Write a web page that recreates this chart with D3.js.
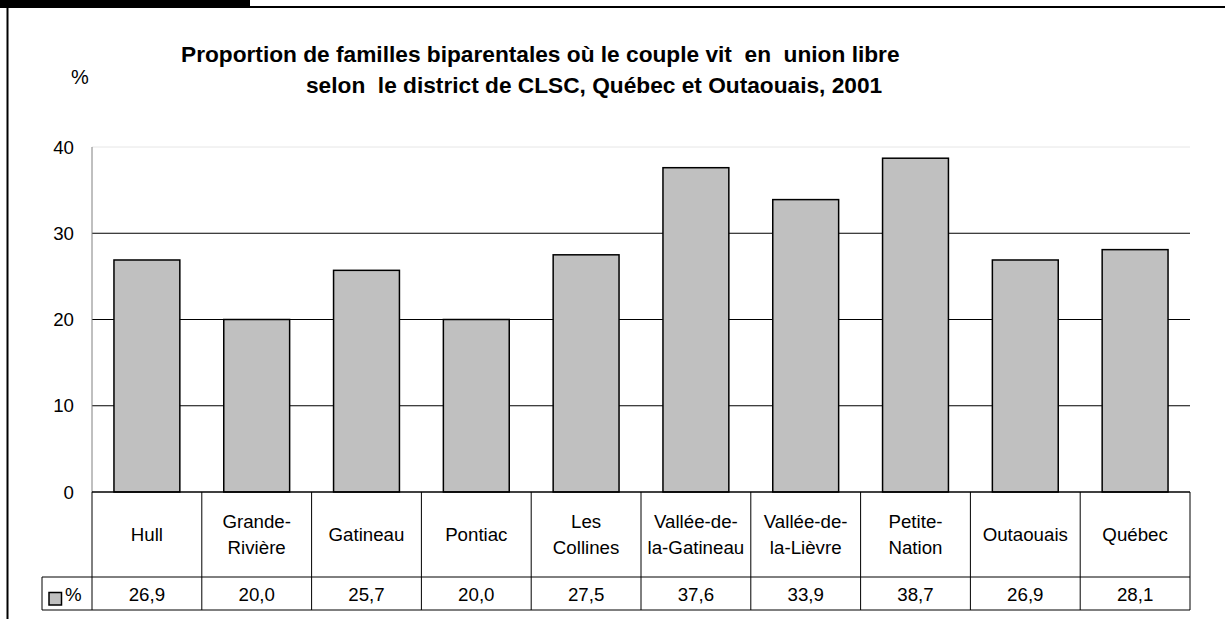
<!DOCTYPE html>
<html><head><meta charset="utf-8">
<script src="https://cdn.jsdelivr.net/npm/d3@7"></script>
<style>
body{margin:0;background:#fff}
svg{display:block}
text{font-family:"Liberation Sans",Arial,sans-serif;fill:#000;white-space:pre}
</style>
</head><body><svg id="c" width="1225" height="619"></svg>
<script>
const categories = ["Hull","Grande-Rivière","Gatineau","Pontiac","Les Collines","Vallée-de-la-Gatineau","Vallée-de-la-Lièvre","Petite-Nation","Outaouais","Québec"];
const categoryLines = [["Hull"],["Grande-","Rivière"],["Gatineau"],["Pontiac"],["Les","Collines"],["Vallée-de-","la-Gatineau"],["Vallée-de-","la-Lièvre"],["Petite-","Nation"],["Outaouais"],["Québec"]];
const values = [26.9,20.0,25.7,20.0,27.5,37.6,33.9,38.7,26.9,28.1];
const yTicks = [0,10,20,30,40];
const titleLines = ["Proportion de familles biparentales où le couple vit  en  union libre","selon  le district de CLSC, Québec et Outaouais, 2001"];
const unitLabel = "%";
const seriesLabel = "%";

(function(){
const svg = d3.select("#c");
const W = 1225, H = 619;
const pLeft = 92, pRight = 1190, pTop = 147, zeroY = 492;
const row1 = 577, row2 = 610, legendLeft = 42;
const fs = 18.7;

// frame
svg.append("rect").attr("x",0).attr("y",0).attr("width",250).attr("height",8).attr("fill","#000");
svg.append("line").attr("x1",250).attr("x2",W).attr("y1",7).attr("y2",7).attr("stroke","#000").attr("stroke-width",2);
svg.append("line").attr("x1",7.5).attr("x2",7.5).attr("y1",0).attr("y2",H).attr("stroke","#000").attr("stroke-width",2);

const x = d3.scaleBand().domain(categories).range([pLeft,pRight]);
const y = d3.scaleLinear().domain([0,40]).range([zeroY,pTop]);
const bw = x.bandwidth();

// grid
svg.append("g").selectAll("line").data(yTicks.filter(t=>t>0)).join("line")
  .attr("x1",pLeft).attr("x2",pRight)
  .attr("y1",d=>y(d)).attr("y2",d=>y(d))
  .attr("stroke",d=>d===40?"#e6e6e6":"#000").attr("stroke-width",1);

// y axis
svg.append("line").attr("x1",pLeft).attr("x2",pLeft).attr("y1",pTop).attr("y2",zeroY).attr("stroke","#808080");
svg.append("g").selectAll("text").data(yTicks).join("text")
  .attr("x",74).attr("y",d=>y(d)+6.7).attr("text-anchor","end")
  .attr("font-size",fs).text(d=>d);

svg.append("text").attr("x",71).attr("y",84).attr("font-size",20).text(unitLabel);

// title
svg.append("text").attr("x",181).attr("y",61.5).attr("font-size",22.7).attr("font-weight","bold").text(titleLines[0]);
svg.append("text").attr("x",306).attr("y",93.3).attr("font-size",22.7).attr("font-weight","bold").text(titleLines[1]);

// bars
svg.append("g").selectAll("rect").data(values).join("rect")
  .attr("x",(d,i)=>x(categories[i])+bw*0.2)
  .attr("width",bw*0.6)
  .attr("y",d=>y(d)).attr("height",d=>y(0)-y(d))
  .attr("fill","#c0c0c0").attr("stroke","#000").attr("stroke-width",1.5);

// table
const tg = svg.append("g").attr("stroke","#000").attr("stroke-width",1);
tg.append("line").attr("x1",pLeft).attr("x2",pRight).attr("y1",zeroY).attr("y2",zeroY).attr("stroke-width",1.5);
tg.append("line").attr("x1",legendLeft).attr("x2",pRight).attr("y1",row1).attr("y2",row1);
tg.append("line").attr("x1",legendLeft).attr("x2",pRight).attr("y1",row2).attr("y2",row2);
tg.append("line").attr("x1",legendLeft).attr("x2",legendLeft).attr("y1",row1).attr("y2",row2);
tg.selectAll("line.v").data(categories.concat(["_end"])).join("line").attr("class","v")
  .attr("x1",(d,i)=>i<categories.length?x(d):pRight).attr("x2",(d,i)=>i<categories.length?x(d):pRight)
  .attr("y1",zeroY).attr("y2",row2);

// category labels
const lab = svg.append("g").selectAll("text").data(categoryLines).join("text")
  .attr("text-anchor","middle").attr("font-size",fs);
lab.each(function(lines,i){
  const cx = x(categories[i])+bw/2;
  const t = d3.select(this);
  const n = lines.length;
  lines.forEach((s,k)=>{
    t.append("tspan").attr("x",cx).attr("y",541 + (k-(n-1)/2)*25.5).text(s);
  });
});

// value row
svg.append("g").selectAll("text").data(values).join("text")
  .attr("x",(d,i)=>x(categories[i])+bw/2).attr("y",600.5)
  .attr("text-anchor","middle").attr("font-size",fs)
  .text(d=>d.toFixed(1).replace(".",","));

// legend cell
svg.append("rect").attr("x",49).attr("y",592.5).attr("width",12.5).attr("height",12.5)
  .attr("fill","#c0c0c0").attr("stroke","#000").attr("stroke-width",1.5);
svg.append("text").attr("x",65).attr("y",601).attr("font-size",fs).text(seriesLabel);
})();
</script>
</body></html>
